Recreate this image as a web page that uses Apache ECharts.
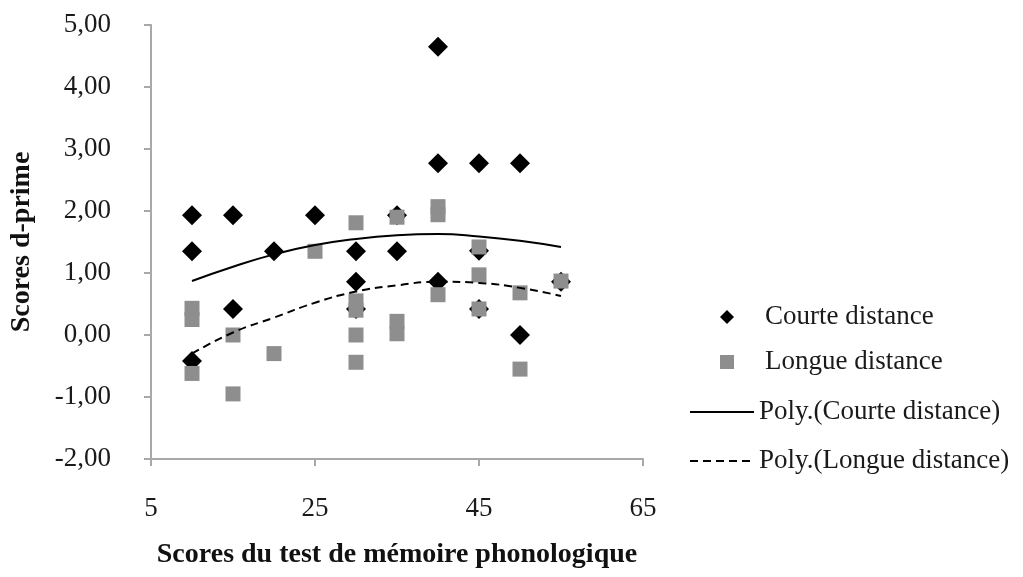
<!DOCTYPE html>
<html>
<head>
<meta charset="utf-8">
<script src="https://cdn.jsdelivr.net/npm/echarts@6/dist/echarts.min.js"></script>
<style>
html,body{margin:0;padding:0;background:#fff;}
#chart{width:1023px;height:577px;}
</style>
</head>
<body>
<div id="chart"></div>
<script>
// Scatter data
var courteX = [10,10,10,15,15,20,25,30,30,30,35,35,40,40,40,45,45,45,50,50,55];
var courteY = [1.93,1.35,-0.42,1.93,0.42,1.35,1.93,1.35,0.86,0.42,1.93,1.35,4.65,2.77,0.86,2.77,1.36,0.42,2.77,0.00,0.86];
var longueX = [10,10,10,15,15,20,25,30,30,30,30,30,35,35,35,40,40,40,45,45,45,50,50,55];
var longueY = [0.43,0.25,-0.62,0.00,-0.95,-0.30,1.35,1.81,0.55,0.40,0.00,-0.44,1.90,0.22,0.02,2.07,1.94,0.65,1.42,0.97,0.42,0.68,-0.55,0.87];
// Trend curves
var trendX = [10,15,20,25,30,35,40,45,50,55];
var polyCourteY = [0.87,1.10,1.30,1.45,1.55,1.61,1.63,1.59,1.52,1.42];
var polyLongueY = [-0.30,0.04,0.28,0.52,0.70,0.80,0.86,0.84,0.76,0.63];
var xTicks = {min:5, max:65, interval:20};
var yTicks = {min:-2, max:5, interval:1};
var names = ['Courte distance','Longue distance','Poly.(Courte distance)','Poly.(Longue distance)'];

function zip(xs, ys){ return xs.map(function(x,i){ return [x, ys[i]]; }); }

var font = '"Liberation Serif", "Times New Roman", serif';
var chart = echarts.init(document.getElementById('chart'));
chart.setOption({
  animation: false,
  backgroundColor: '#fff',
  textStyle: {fontFamily: font},
  grid: {left: 151, right: 380, top: 25, bottom: 118, containLabel: false},
  xAxis: {
    type: 'value', min: xTicks.min, max: xTicks.max, interval: xTicks.interval,
    name: 'Scores du test de mémoire phonologique',
    nameLocation: 'middle', nameGap: 82,
    nameTextStyle: {fontFamily: font, fontSize: 28, fontWeight: 'bold', color: '#111'},
    axisLine: {show: true, onZero: false, lineStyle: {color: '#a8a8a8', width: 2}},
    axisTick: {show: true, length: 7, lineStyle: {color: '#a8a8a8', width: 2}},
    axisLabel: {fontFamily: font, fontSize: 27, color: '#1a1a1a', margin: 36},
    splitLine: {show: false}
  },
  yAxis: {
    type: 'value', min: yTicks.min, max: yTicks.max, interval: yTicks.interval,
    name: 'Scores d-prime',
    nameLocation: 'middle', nameGap: 115,
    nameTextStyle: {fontFamily: font, fontSize: 28, fontWeight: 'bold', color: '#111'},
    axisLine: {show: true, onZero: false, lineStyle: {color: '#a8a8a8', width: 2}},
    axisTick: {show: true, length: 7, lineStyle: {color: '#a8a8a8', width: 2}},
    axisLabel: {fontFamily: font, fontSize: 27, color: '#1a1a1a', margin: 40,
      formatter: function(v){ return v.toFixed(2).replace('.', ','); }},
    splitLine: {show: false}
  },
  legend: [
    {
      data: [{name: names[0], icon: 'diamond'}, {name: names[1], icon: 'rect'}],
      orient: 'vertical', left: 720, top: 302,
      padding: 0, itemWidth: 14, itemHeight: 14, itemGap: 15,
      textStyle: {fontFamily: font, fontSize: 27, color: '#1a1a1a', lineHeight: 30, padding: [0,0,0,26]}
    },
    {
      data: [names[2], names[3]], orient: 'vertical', left: 689, top: 397,
      padding: 0, itemWidth: 64, itemHeight: 13, itemGap: 19,
      itemStyle: {opacity: 0},
      textStyle: {fontFamily: font, fontSize: 27, color: '#1a1a1a', lineHeight: 30}
    }
  ],
  series: [
    {
      name: names[0], type: 'scatter', symbol: 'diamond', symbolSize: 20,
      itemStyle: {color: '#000', opacity: 1}, data: zip(courteX, courteY), z: 2
    },
    {
      name: names[1], type: 'scatter', symbol: 'rect', symbolSize: 15,
      itemStyle: {color: '#8e8e8e', opacity: 1}, data: zip(longueX, longueY), z: 3
    },
    {
      name: names[2], type: 'line', smooth: true, symbol: 'none', showSymbol: false,
      lineStyle: {color: '#000', width: 2, type: 'solid'}, itemStyle: {color: '#000'},
      data: zip(trendX, polyCourteY), z: 4
    },
    {
      name: names[3], type: 'line', smooth: true, symbol: 'none', showSymbol: false,
      lineStyle: {color: '#000', width: 2, type: [8,5]}, itemStyle: {color: '#000'},
      data: zip(trendX, polyLongueY), z: 4
    }
  ]
});
</script>
</body>
</html>
